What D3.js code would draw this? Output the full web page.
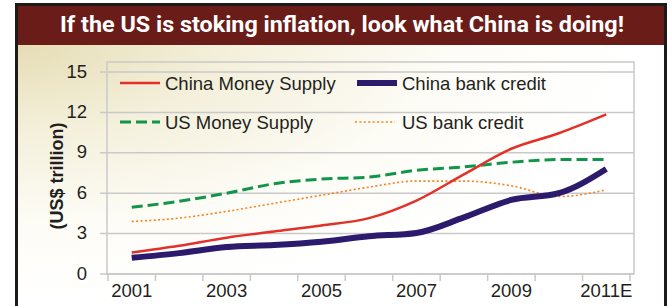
<!DOCTYPE html>
<html>
<head>
<meta charset="utf-8">
<script src="https://cdn.jsdelivr.net/npm/d3@7/dist/d3.min.js"></script>
<style>
  html, body { margin: 0; padding: 0; background: #ffffff; }
  svg { display: block; }
</style>
</head>
<body>
<svg id="chart" width="672" height="306"></svg>
<script>
// ---- data ----
const years = [2001, 2002, 2003, 2004, 2005, 2006, 2007, 2008, 2009, 2010, 2011];
const yearLabels = ["2001", "", "2003", "", "2005", "", "2007", "", "2009", "", "2011E"];
const chinaMoneySupply = [1.6, 2.1, 2.7, 3.15, 3.6, 4.15, 5.45, 7.4, 9.3, 10.45, 11.85];
const chinaBankCredit  = [1.2, 1.55, 2.0, 2.15, 2.4, 2.8, 3.05, 4.2, 5.5, 6.0, 7.8];
const usMoneySupply    = [4.95, 5.4, 6.0, 6.7, 7.05, 7.2, 7.7, 7.95, 8.3, 8.5, 8.5];
const usBankCredit     = [3.9, 4.15, 4.65, 5.25, 5.85, 6.45, 6.9, 6.9, 6.55, 5.75, 6.25];
const yTicks = [0, 3, 6, 9, 12, 15];
const seriesNames = ["China Money Supply", "China bank credit", "US Money Supply", "US bank credit"];
const titleText = "If the US is stoking inflation, look what China is doing!";
const yAxisTitle = "(US$ trillion)";

// ---- layout ----
const svg = d3.select("#chart");
const W = 672, H = 306;
const plotL = 107, plotR = 634, plotB = 274, plotT = 62;
const x = d3.scaleBand().domain(years).range([108, 630]);
const y = d3.scaleLinear().domain([0, 15]).range([274, 72]);
const cx = d => x(d) + x.bandwidth() / 2;
const textCol = "#231f20";
const font = "'Liberation Sans', Arial, sans-serif";

const defs = svg.append("defs");
const grad = defs.append("radialGradient").attr("id", "bg")
  .attr("cx", 0).attr("cy", 0).attr("r", 0.95).attr("fx", 0).attr("fy", 0);
grad.append("stop").attr("offset", "0%").attr("stop-color", "#e6ddb5");
grad.append("stop").attr("offset", "35%").attr("stop-color", "#f4f0dc");
grad.append("stop").attr("offset", "70%").attr("stop-color", "#fdfcf6");
grad.append("stop").attr("offset", "100%").attr("stop-color", "#ffffff");

// body background
svg.append("rect").attr("x", 17).attr("y", 44).attr("width", 648).attr("height", 270)
  .attr("fill", "url(#bg)");
// title band
svg.append("rect").attr("x", 17).attr("y", 4).attr("width", 648).attr("height", 41)
  .attr("fill", "#691c18");
// frame
svg.append("rect").attr("x", 16.5).attr("y", 4.5).attr("width", 649).attr("height", 330)
  .attr("fill", "none").attr("stroke", "#1e1a1a").attr("stroke-width", 3);

svg.append("text").attr("x", 342).attr("y", 32)
  .attr("text-anchor", "middle").attr("fill", "#ffffff")
  .attr("font-family", "Roboto, 'Liberation Sans', sans-serif").attr("font-weight", 700)
  .attr("font-size", 22).attr("textLength", 564).attr("lengthAdjust", "spacingAndGlyphs")
  .text(titleText);

// gridlines
const gridCol = "#c9c9c9";
svg.append("g").selectAll("line").data(yTicks).join("line")
  .attr("x1", plotL - 7).attr("x2", plotR)
  .attr("y1", d => y(d)).attr("y2", d => y(d))
  .attr("stroke", gridCol).attr("stroke-width", 1.5);
// plot border
svg.append("rect").attr("x", plotL).attr("y", plotT).attr("width", plotR - plotL).attr("height", plotB - plotT)
  .attr("fill", "none").attr("stroke", gridCol).attr("stroke-width", 1.5);

// y tick labels
svg.append("g").selectAll("text").data(yTicks).join("text")
  .attr("x", 87).attr("y", d => y(d) - 1).attr("dy", "0.36em")
  .attr("text-anchor", "end").attr("fill", textCol)
  .attr("font-family", font).attr("font-size", 18.5)
  .text(d => d);

// x ticks at band boundaries
const bounds = years.map(d => x(d)).concat([x(years[years.length - 1]) + x.bandwidth()]);
svg.append("g").selectAll("line").data(bounds).join("line")
  .attr("x1", d => d).attr("x2", d => d).attr("y1", plotB).attr("y2", plotB + 7)
  .attr("stroke", gridCol).attr("stroke-width", 1.5);
svg.append("g").selectAll("text").data(years).join("text")
  .attr("x", d => cx(d)).attr("y", 297)
  .attr("text-anchor", "middle").attr("fill", textCol)
  .attr("font-family", font).attr("font-size", 18.5)
  .text((d, i) => yearLabels[i]);

// y axis title
svg.append("text").attr("transform", "translate(63,176) rotate(-90)")
  .attr("text-anchor", "middle").attr("fill", textCol)
  .attr("font-family", font).attr("font-weight", 700).attr("font-size", 18)
  .text(yAxisTitle);

// series styles
const styles = [
  { vals: chinaMoneySupply, color: "#e2312a", width: 2.5, dash: null },
  { vals: chinaBankCredit,  color: "#2c1a6c", width: 6,   dash: null },
  { vals: usMoneySupply,    color: "#12954a", width: 3,   dash: "11,5" },
  { vals: usBankCredit,     color: "#f5821f", width: 1.6, dash: "2,2.4" }
];
const line = d3.line().x((d, i) => cx(years[i])).y(d => y(d)).curve(d3.curveMonotoneX);

const drawOrder = [3, 2, 0, 1];
drawOrder.forEach(k => {
  const s = styles[k];
  svg.append("path").datum(s.vals).attr("d", line)
    .attr("fill", "none").attr("stroke", s.color).attr("stroke-width", s.width)
    .attr("stroke-dasharray", s.dash);
});

// legend
const legendPos = [
  { x: 120, y: 83 }, { x: 357, y: 83 }, { x: 120, y: 122 }, { x: 355, y: 122 }
];
seriesNames.forEach((name, k) => {
  const s = styles[k], p = legendPos[k];
  svg.append("line").attr("x1", p.x).attr("x2", p.x + 40).attr("y1", p.y).attr("y2", p.y)
    .attr("stroke", s.color).attr("stroke-width", s.width).attr("stroke-dasharray", s.dash);
  svg.append("text").attr("x", k % 2 === 0 ? 165 : 402).attr("y", p.y).attr("dy", "0.36em")
    .attr("fill", textCol).attr("font-family", font).attr("font-size", 18.5)
    .text(name);
});
</script>
</body>
</html>
